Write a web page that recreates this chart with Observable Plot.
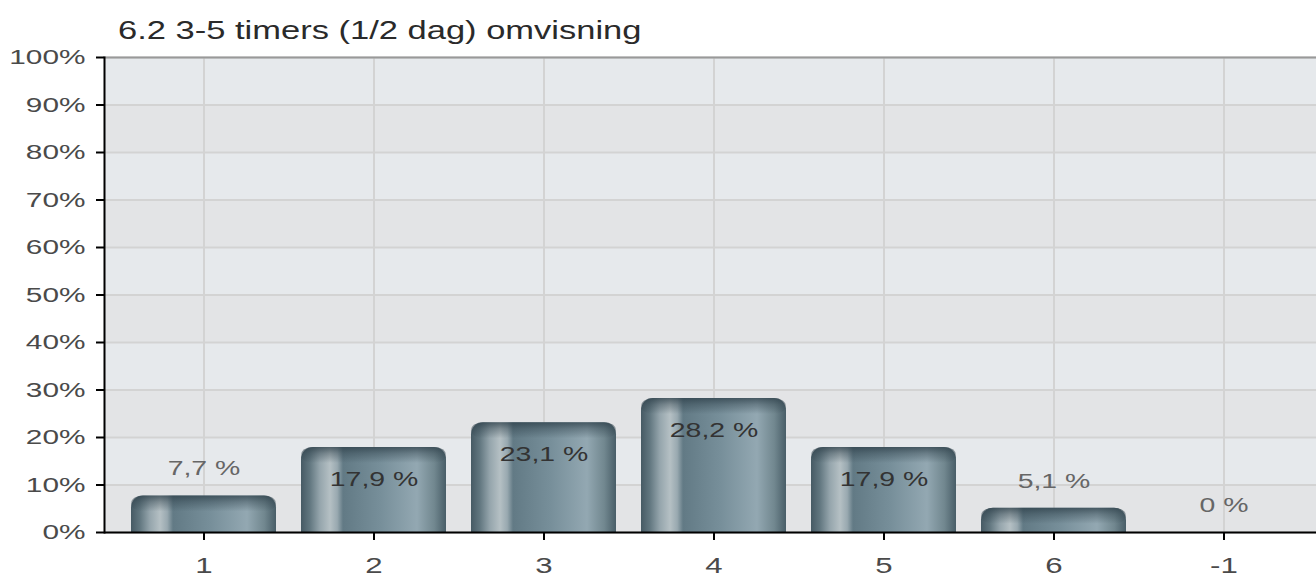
<!DOCTYPE html>
<html><head><meta charset="utf-8">
<script src="https://cdn.jsdelivr.net/npm/d3@7"></script>
<script src="https://cdn.jsdelivr.net/npm/@observablehq/plot@0.6"></script>
<style>
body{margin:0;background:#fff;}
#wrap{position:relative;width:1316px;height:579px;overflow:hidden;}
#title{position:absolute;left:118px;top:16px;font:25px "Liberation Sans",Arial,sans-serif;color:#2a2a2a;white-space:nowrap;transform:scaleX(1.38);transform-origin:0 0;}
#wrap svg{position:absolute;left:0;top:0;}
</style></head><body><div id="wrap"><div id="title"></div></div>
<script>
const title = "6.2 3-5 timers (1/2 dag) omvisning";
const categories = ["1", "2", "3", "4", "5", "6", "-1"];
const values = [7.7, 17.9, 23.1, 28.2, 17.9, 5.1, 0];
const valueLabels = ["7,7 %", "17,9 %", "23,1 %", "28,2 %", "17,9 %", "5,1 %", "0 %"];
const yTicks = [0, 10, 20, 30, 40, 50, 60, 70, 80, 90, 100];
const yTickLabels = ["0%", "10%", "20%", "30%", "40%", "50%", "60%", "70%", "80%", "90%", "100%"];

document.getElementById("title").textContent = title;

const data = categories.map((c, i) => ({cat: c, value: values[i], label: valueLabels[i]}));
const bands = yTicks.slice(0, -1).map((d, i) => ({y1: d, y2: yTicks[i + 1], odd: i % 2 === 1}));

const chart = Plot.plot({
  width: 1316,
  height: 579,
  marginTop: 57,
  marginBottom: 47,
  marginLeft: 104,
  marginRight: 0,
  style: {fontFamily: '"Liberation Sans", Arial, sans-serif', fontSize: "21px", background: "transparent"},
  x: {domain: categories, range: [118.5, 1308.5], paddingInner: 25 / 170, paddingOuter: 12.5 / 170, label: null},
  y: {domain: [0, 100], label: null},
  marks: [
    Plot.rectY(bands, {y1: "y1", y2: "y2", fill: d => d.odd ? "#e6e9ec" : "#e3e4e6"}),
    Plot.gridY(yTicks, {stroke: "#d3d3d3", strokeOpacity: 1, strokeWidth: 2}),
    Plot.gridX(categories, {stroke: "#d3d3d3", strokeOpacity: 1, strokeWidth: 2}),
    Plot.barY(data, {x: "cat", y1: 0, y2: "value", fill: "url(#barGrad)", rx: 12, insetBottom: -20, clip: true}),
    Plot.barY(data, {x: "cat", y1: "value", y2: "value", fill: "url(#capGrad)", rx: 12, insetBottom: -16, clip: true}),
    Plot.text(data.filter(d => d.value < 10), {x: "cat", y: "value", text: "label", dy: -27, fill: "#666", fontSize: 20}),
    Plot.text(data.filter(d => d.value >= 10), {x: "cat", y: "value", text: "label", dy: 32, fill: "#333", fontSize: 20}),
    Plot.ruleY([100], {stroke: "#999", strokeWidth: 2}),
    Plot.ruleY([0], {stroke: "#000", strokeWidth: 2}),
    Plot.frame({anchor: "left", stroke: "#000", strokeWidth: 2}),
    Plot.axisY({ticks: yTicks, tickFormat: d => yTickLabels[yTicks.indexOf(d)], tickSize: 8, tickPadding: 11, stroke: "#000", strokeWidth: 2, fill: "#4a4a4a", fontSize: 21, label: null}),
    Plot.axisX({tickSize: 8, tickPadding: 17, stroke: "#000", strokeWidth: 2, fill: "#4a4a4a", fontSize: 22, label: null})
  ]
});

d3.select(chart).insert("defs", ":first-child").html(`
  <linearGradient id="barGrad" x1="0" y1="0" x2="1" y2="0">
    <stop offset="0" stop-color="#465a64"/>
    <stop offset="0.06" stop-color="#61767f"/>
    <stop offset="0.13" stop-color="#95a5ac"/>
    <stop offset="0.2" stop-color="#b5c0c4"/>
    <stop offset="0.25" stop-color="#99a9b0"/>
    <stop offset="0.29" stop-color="#627a85"/>
    <stop offset="0.55" stop-color="#778f9a"/>
    <stop offset="0.8" stop-color="#93a8b2"/>
    <stop offset="0.92" stop-color="#71878f"/>
    <stop offset="1" stop-color="#495e68"/>
  </linearGradient>
  <linearGradient id="capGrad" x1="0" y1="0" x2="0" y2="1">
    <stop offset="0" stop-color="#2c3e48" stop-opacity="0.75"/>
    <stop offset="0.4" stop-color="#2c3e48" stop-opacity="0.4"/>
    <stop offset="1" stop-color="#2c3e48" stop-opacity="0"/>
  </linearGradient>`);

// horizontally stretched lettering, as in the reference
const sx = 1.42;
d3.select(chart).selectAll("text").each(function () {
  const t = this.getAttribute("transform");
  if (t) {
    this.setAttribute("transform", t + ` scale(${sx},1)`);
  } else {
    const x = +(this.getAttribute("x") || 0);
    this.setAttribute("transform", `translate(${x},0) scale(${sx},1) translate(${-x},0)`);
  }
});

document.getElementById("wrap").appendChild(chart);
</script>
</body></html>
